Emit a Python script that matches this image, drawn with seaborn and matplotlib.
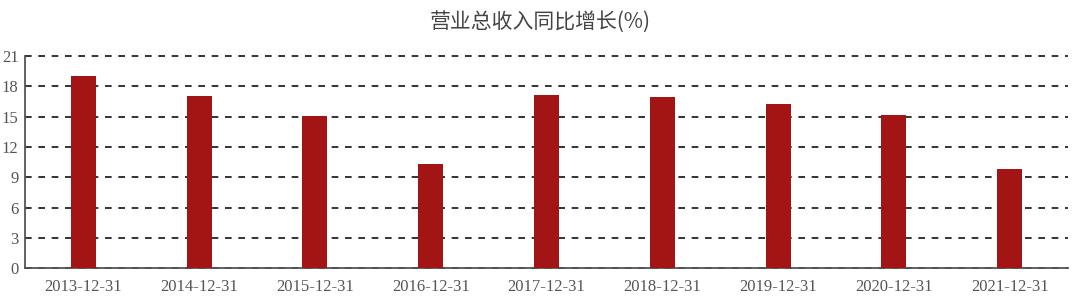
import matplotlib
matplotlib.use("Agg")
import matplotlib.pyplot as plt
import seaborn as sns
import pandas as pd

categories = ["2013-12-31", "2014-12-31", "2015-12-31", "2016-12-31", "2017-12-31",
              "2018-12-31", "2019-12-31", "2020-12-31", "2021-12-31"]
values = [19.0, 17.0, 15.1, 10.35, 17.1, 16.9, 16.3, 15.2, 9.8]
yticks = [0, 3, 6, 9, 12, 15, 18, 21]
title = "营业总收入同比增长(%)"

sns.set_theme(style="white")
plt.rcParams['font.family'] = ['Noto Sans CJK SC', 'DejaVu Sans']

df = pd.DataFrame({"date": categories, "value": values})

fig = plt.figure(figsize=(10.8, 3.03), dpi=100)
ax = fig.add_axes([0.0235, 0.115, 0.965, 0.70])
sns.barplot(data=df, x="date", y="value", color="#a31515", width=0.216,
            saturation=1, linewidth=0, ax=ax, zorder=3)
ax.set_ylim(0, 21)
ax.set_yticks(yticks)
ax.set_xlim(-0.5, len(categories) - 0.5)
ax.yaxis.grid(True, linestyle=(0, (4, 4)), color="#111111", linewidth=1.2, zorder=0)
ax.xaxis.grid(False)
for gl in ax.get_ygridlines():
    gl.set_clip_on(False)
for s in ["top", "right"]:
    ax.spines[s].set_visible(False)
for s in ["left", "bottom"]:
    ax.spines[s].set_color("#555555")
    ax.spines[s].set_linewidth(1.3)
ax.set_xlabel("")
ax.set_ylabel("")
ax.tick_params(axis="both", length=0, labelsize=12, colors="#555555")
ax.tick_params(axis="x", pad=8)
ax.tick_params(axis="y", pad=5)
for lab in ax.get_xticklabels() + ax.get_yticklabels():
    lab.set_family(["Liberation Serif", "DejaVu Serif"])
fig.suptitle(title, y=0.965, fontsize=15, color="#444444")
fig.savefig("out.png", dpi=100)
